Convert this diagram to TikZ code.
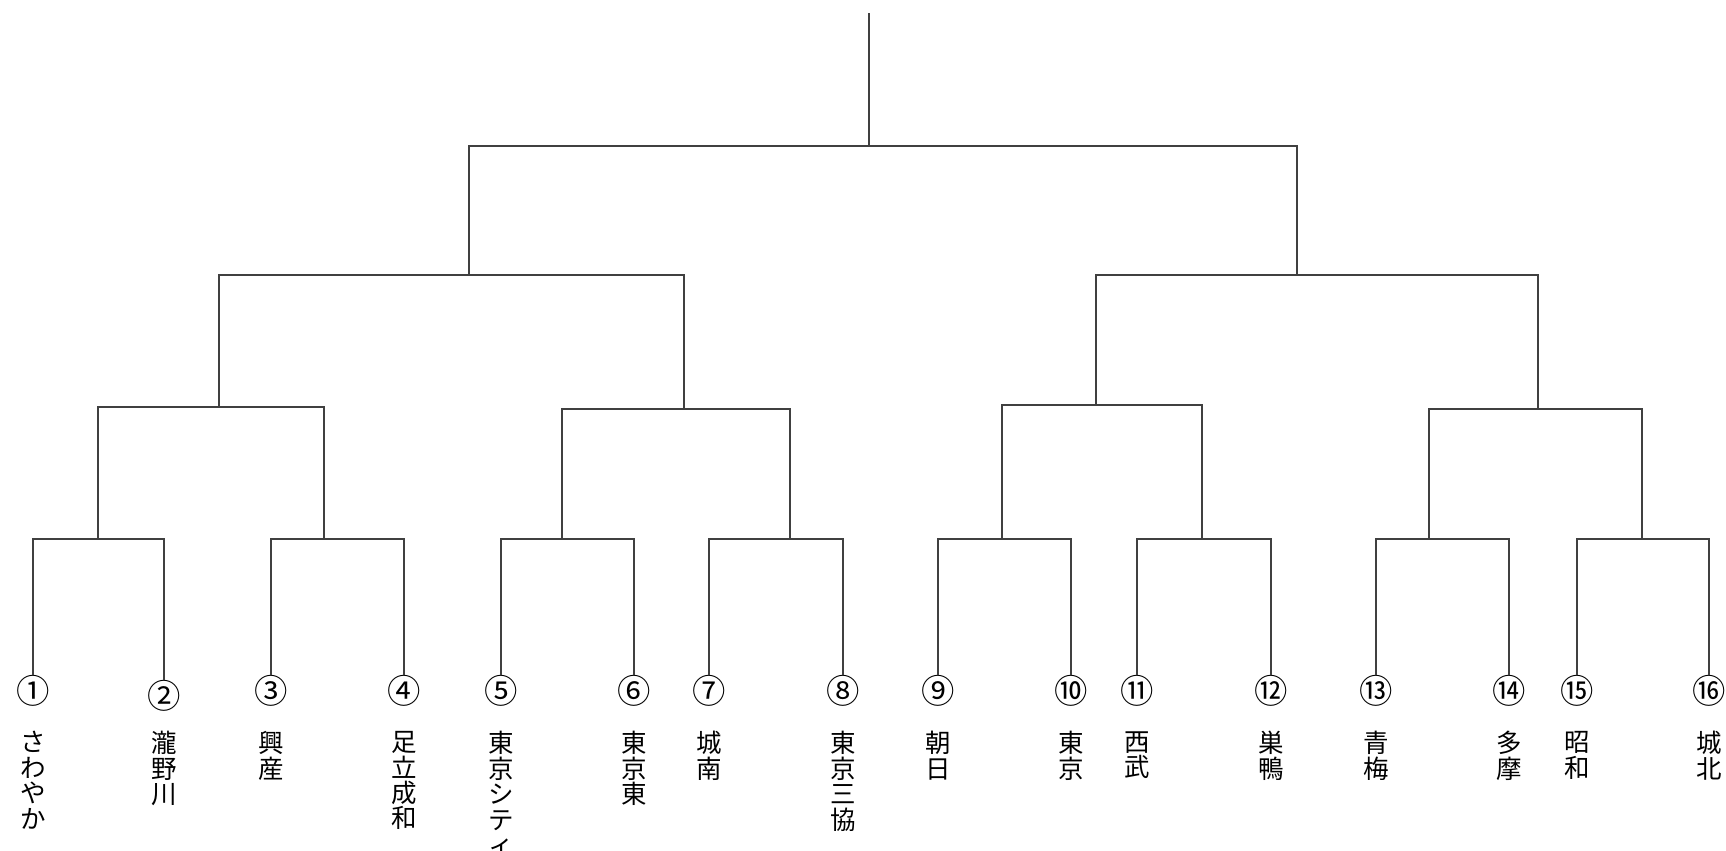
\documentclass[tikz,border=0pt]{standalone}
\usepackage{fontspec}
\setmainfont{Noto Sans CJK JP}
\begin{document}
\begin{tikzpicture}[x=0.02cm,y=-0.02cm,
  line/.style={draw=black!75,line width=1pt},
  num/.style={inner sep=0pt,font=\fontsize{19}{19}\selectfont},
  team/.style={anchor=north,inner sep=0pt,align=center,font=\fontsize{14.5}{14.5}\selectfont}]
\useasboundingbox (0,0) rectangle (1726,850);
% entries
\foreach \i/\x/\yy/\n/\t in {1/33/691/①/{さ\\わ\\や\\か},2/164/696/②/{瀧\\野\\川},
  3/271/691/③/{興\\産},4/404/691/④/{足\\立\\成\\和},5/501/691/⑤/{東\\京\\シ\\テ\\ィ},
  6/634/691/⑥/{東\\京\\東},7/709/691/⑦/{城\\南},8/843/691/⑧/{東\\京\\三\\協},
  9/938/691/⑨/{朝\\日},10/1071/691/⑩/{東\\京},11/1137/691/⑪/{西\\武},
  12/1271/691/⑫/{巣\\鴨},13/1376/691/⑬/{青\\梅},14/1509/691/⑭/{多\\摩},
  15/1577/691/⑮/{昭\\和},16/1709/691/⑯/{城\\北}}
{
  \node[num] (c\i) at (\x,\yy) {\n};
  \node[team] (t\i) at (\x,731) {\t};
}
% junctions
\coordinate (m1) at (98,539);   \coordinate (m2) at (324,539);
\coordinate (m3) at (562,539);  \coordinate (m4) at (790,539);
\coordinate (m5) at (1002,539); \coordinate (m6) at (1202,539);
\coordinate (m7) at (1429,539); \coordinate (m8) at (1642,539);
\coordinate (q1) at (219,407);  \coordinate (q2) at (684,409);
\coordinate (q3) at (1096,405); \coordinate (q4) at (1538,409);
\coordinate (s1) at (469,275);  \coordinate (s2) at (1297,275);
\coordinate (f) at (869,146);   \coordinate (top) at (869,13);
% bracket
\foreach \a/\b/\j in {c1.north/c2.north/m1,c3.north/c4.north/m2,c5.north/c6.north/m3,
  c7.north/c8.north/m4,c9.north/c10.north/m5,c11.north/c12.north/m6,
  c13.north/c14.north/m7,c15.north/c16.north/m8,
  m1/m2/q1,m3/m4/q2,m5/m6/q3,m7/m8/q4,q1/q2/s1,q3/q4/s2,s1/s2/f}
  \draw[line] (\a) |- (\j) -| (\b);
\draw[line] (f) -- (top);
\end{tikzpicture}
\end{document}
